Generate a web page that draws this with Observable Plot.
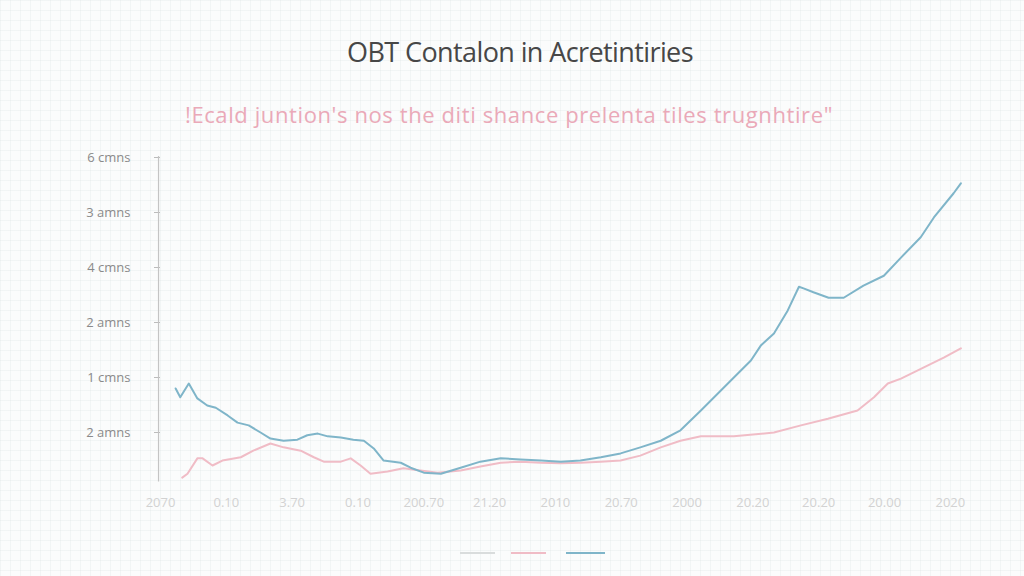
<!DOCTYPE html>
<html>
<head>
<meta charset="utf-8">
<script src="https://cdn.jsdelivr.net/npm/d3@7"></script>
<script src="https://cdn.jsdelivr.net/npm/@observablehq/plot@0.6"></script>
<style>
  html, body { margin: 0; padding: 0; }
  body {
    width: 1024px; height: 576px; overflow: hidden;
    background-color: #fbfcfc;
    background-image:
      linear-gradient(to right, rgba(225,232,232,0.35) 1px, transparent 1px),
      linear-gradient(to bottom, rgba(225,232,232,0.35) 1px, transparent 1px);
    background-size: 10px 10px;
    font-family: "Open Sans", "Noto Sans", sans-serif;
  }
  #title { position: absolute; top: 33px; left: 0; width: 1040px; text-align: center;
    font-size: 27px; color: #474747; letter-spacing: -0.6px; }
  #subtitle { position: absolute; top: 99px; left: 0; width: 1018px; text-align: center;
    font-size: 22px; color: #eaa9b8; letter-spacing: 0.6px; }
  #chart { position: absolute; top: 135px; left: 0; }
  #legend { position: absolute; top: 549px; left: 0; width: 1024px; height: 10px; }
  #legend span { position: absolute; top: 3px; height: 2px; }
</style>
</head>
<body>
<div id="title"></div>
<div id="subtitle"></div>
<div id="chart"></div>
<div id="legend"></div>
<script>
const titleText = "OBT Contalon in Acretintiries";
const subtitleText = "!Ecald juntion's nos the diti shance prelenta tiles trugnhtire\"";

const xTickLabels = ["2070", "0.10", "3.70", "0.10", "200.70", "21.20", "2010", "20.70", "2000", "20.20", "20.20", "20.00", "2020"];
const yTickValues = [1, 2, 3, 4, 5, 6];
const yTickLabels = ["2 amns", "1 cmns", "2 amns", "4 cmns", "3 amns", "6 cmns"];

const seriesNames = ["series A", "series B", "series C"];
const seriesColors = ["#d9dcdc", "#f0bcc6", "#7fb5c9"];

const seriesCT = [0.23,0.30,0.43,0.56,0.71,0.84,1.02,1.17,1.34,1.52,1.67,1.87,2.08,2.23,2.39,2.54,2.74,2.93,3.09,3.24,3.39,3.65,3.80,4.00,4.26,4.56,4.86,5.17,5.47,5.78,6.08,6.38,6.69,6.99,7.29,7.60,7.90,8.21,8.51,8.97,9.12,9.32,9.53,9.70,9.77,9.92,10.15,10.38,10.68,10.99,11.25,11.55,11.75,12.05,12.16];
const seriesCV = [1.80,1.64,1.89,1.62,1.49,1.45,1.31,1.18,1.13,1.00,0.89,0.85,0.87,0.95,0.98,0.93,0.91,0.87,0.85,0.71,0.49,0.45,0.36,0.27,0.25,0.36,0.47,0.53,0.51,0.49,0.47,0.49,0.55,0.62,0.73,0.85,1.04,1.40,1.76,2.31,2.58,2.80,3.22,3.65,3.62,3.55,3.45,3.45,3.67,3.85,4.18,4.55,4.91,5.35,5.53];

const seriesBT = [0.33,0.41,0.56,0.64,0.79,0.94,1.22,1.41,1.67,1.87,2.13,2.33,2.48,2.74,2.89,3.04,3.19,3.45,3.69,3.95,4.21,4.56,4.86,5.17,5.47,5.78,6.08,6.38,6.69,6.99,7.29,7.60,7.90,8.21,8.71,9.32,9.73,10.14,10.59,10.84,11.05,11.25,11.66,11.90,12.16];
const seriesBV = [0.18,0.25,0.53,0.53,0.40,0.49,0.55,0.67,0.80,0.73,0.67,0.55,0.47,0.47,0.53,0.40,0.25,0.29,0.35,0.31,0.27,0.31,0.38,0.45,0.47,0.45,0.44,0.45,0.47,0.49,0.58,0.73,0.85,0.93,0.93,1.00,1.13,1.25,1.40,1.64,1.89,1.98,2.22,2.36,2.53];

document.getElementById("title").textContent = titleText;
document.getElementById("subtitle").textContent = subtitleText;

const data = [
  ...seriesBT.map((t, i) => ({t, v: seriesBV[i], s: seriesNames[1]})),
  ...seriesCT.map((t, i) => ({t, v: seriesCV[i], s: seriesNames[2]}))
];

const plot = Plot.plot({
  width: 1024,
  height: 380,
  marginLeft: 160,
  marginRight: 61,
  marginTop: 22,
  marginBottom: 28,
  style: { background: "transparent", fontFamily: "Open Sans, sans-serif" },
  x: { domain: [0, 12.2] },
  y: { domain: [0, 6] },
  color: { domain: seriesNames, range: seriesColors },
  marks: [
    Plot.axisY({
      ticks: yTickValues,
      tickFormat: (d) => yTickLabels[yTickValues.indexOf(d)],
      tickSize: 6,
      tickPadding: 24,
      stroke: "#bbb",
      color: "#8a8a8a",
      fontSize: 13,
      label: null
    }),
    Plot.axisX({
      ticks: d3.range(xTickLabels.length),
      tickFormat: (d) => xTickLabels[d],
      tickSize: 0,
      tickPadding: 10,
      color: "#d2d2d2",
      fontSize: 13,
      label: null
    }),
    Plot.ruleX([-0.03], { y1: 0.1, y2: 6.02, stroke: "#c4c4c4", strokeWidth: 1.2 }),
    Plot.line(data, { x: "t", y: "v", z: "s", stroke: "s", strokeWidth: 2, curve: "linear" })
  ]
});
document.getElementById("chart").appendChild(plot);

const legendPos = [[460, 35], [511, 35], [566, 39]];
const legend = document.getElementById("legend");
seriesNames.forEach((n, i) => {
  const sp = document.createElement("span");
  sp.style.left = legendPos[i][0] + "px";
  sp.style.width = legendPos[i][1] + "px";
  sp.style.background = seriesColors[i];
  sp.title = n;
  legend.appendChild(sp);
});
</script>
</body>
</html>
